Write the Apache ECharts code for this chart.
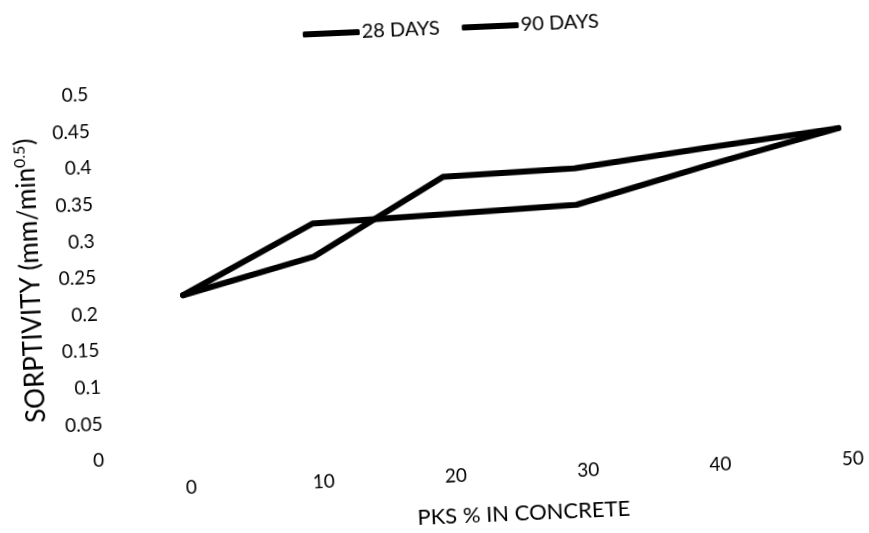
<!DOCTYPE html>
<html>
<head>
<meta charset="utf-8">
<title>Sorptivity</title>
<script src="https://cdn.jsdelivr.net/npm/echarts@6/dist/echarts.min.js"></script>
<style>
    html, body { margin: 0; padding: 0; background: #fff; overflow: hidden; }
    /* the scanned figure is tilted a little, so the chart is tilted too */
    #sorptivity { width: 869px; height: 533px; transform: rotate(-2.5deg); transform-origin: 50% 50%; }
</style>
</head>
<body>
<div id="sorptivity"></div>
<script>
var pks = ['0', '10', '20', '30', '40', '50'];
var days28 = [0.221, 0.266, 0.367, 0.371, 0.391, 0.41];
var days90 = [0.221, 0.311, 0.316, 0.321, 0.367, 0.41];
var yTicks = [0, 0.05, 0.1, 0.15, 0.2, 0.25, 0.3, 0.35, 0.4, 0.45, 0.5];

var dom = document.getElementById("sorptivity");
var myChart = echarts.init(dom);
var option = null;

var font = 'Lato';

option = {
    backgroundColor: '#fff',
    animation: false,
    textStyle: {
        fontFamily: font,
        color: '#000'
    },
    legend: {
        top: 14,
        left: 308,
        icon: 'roundRect',
        itemWidth: 57,
        itemHeight: 6,
        itemGap: 22,
        data: ['28 DAYS', '90 DAYS'],
        itemStyle: {
            color: '#000'
        },
        textStyle: {
            fontFamily: font,
            fontSize: 20,
            color: '#000',
            padding: [0, 0, 0, -3]
        }
    },
    grid: {
        left: 182,
        right: 25,
        top: 80,
        bottom: 72
    },
    xAxis: {
        type: 'category',
        boundaryGap: false,
        data: pks,
        name: 'PKS % IN CONCRETE',
        nameLocation: 'middle',
        nameGap: 60,
        nameTextStyle: {
            fontFamily: font,
            fontSize: 22,
            color: '#000'
        },
        axisLine: { show: false },
        axisTick: { show: false },
        axisLabel: {
            margin: 21,
            fontFamily: font,
            fontSize: 19,
            color: '#000'
        }
    },
    yAxis: {
        type: 'value',
        min: yTicks[0],
        max: yTicks[yTicks.length - 1],
        interval: yTicks[1] - yTicks[0],
        name: 'SORPTIVITY (mm/min{sup|0.5})',
        nameLocation: 'middle',
        nameRotate: 90,
        nameGap: 138,
        nameTextStyle: {
            fontFamily: font,
            fontSize: 26,
            color: '#000',
            rich: {
                sup: {
                    fontFamily: font,
                    fontSize: 16,
                    color: '#000',
                    verticalAlign: 'top',
                    padding: [0, 0, 11, 0]
                }
            }
        },
        axisLine: { show: false },
        axisTick: { show: false },
        splitLine: { show: false },
        axisLabel: {
            margin: 86,
            fontFamily: font,
            fontSize: 19,
            color: '#000'
        }
    },
    series: [
        {
            name: '28 DAYS',
            type: 'line',
            data: days28,
            symbol: 'none',
            lineStyle: {
                color: '#000',
                width: 6,
                cap: 'round',
                join: 'round'
            },
            itemStyle: {
                color: '#000'
            }
        },
        {
            name: '90 DAYS',
            type: 'line',
            data: days90,
            symbol: 'none',
            lineStyle: {
                color: '#000',
                width: 6,
                cap: 'round',
                join: 'round'
            },
            itemStyle: {
                color: '#000'
            }
        }
    ]
};
if (option && typeof option === "object") {
    myChart.setOption(option, true);
}
</script>
</body>
</html>
